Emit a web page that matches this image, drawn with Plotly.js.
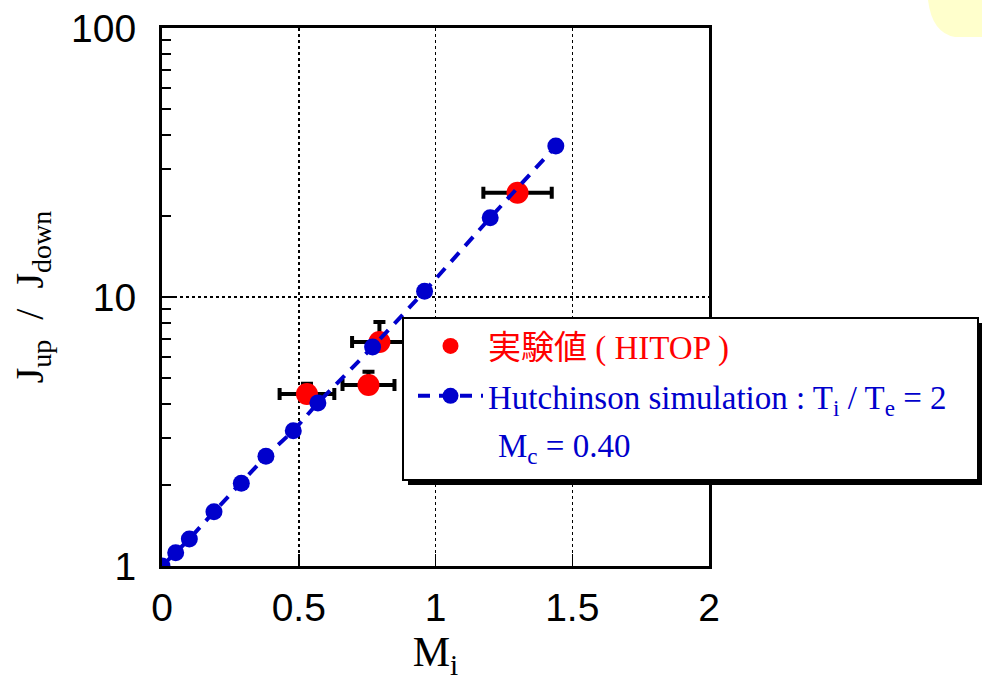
<!DOCTYPE html>
<html>
<head>
<meta charset="utf-8">
<script src="https://cdn.plot.ly/plotly-3.0.1.min.js"></script>
<style>
  html, body { margin: 0; padding: 0; background: #ffffff; }
  #chart { width: 982px; height: 697px; }
</style>
</head>
<body>
<div id="chart"></div>
<script>
// Experimental values (HITOP)
const expM = [0.53, 0.755, 0.795, 1.30];
const expJ = [4.36, 4.71, 6.8, 24.4];
const expMErr = [0.1, 0.095, 0.1, 0.125];
const expJErrUp = [0.4, 0.56, 1.27, 0];
const expJErrDown = [0, 0, 0, 0];

// Hutchinson simulation : Ti/Te = 2, Mc = 0.40
const simM = [0, 0.05, 0.1, 0.19, 0.29, 0.38, 0.48, 0.57, 0.77, 0.96, 1.2, 1.44];
const simJ = [1, 1.12, 1.26, 1.59, 2.03, 2.56, 3.18, 4.04, 6.52, 10.5, 19.7, 36.4];

const xTickVals = [0, 0.5, 1, 1.5, 2];
const xTickText = ['0', '0.5', '1', '1.5', '2'];

const expName = '実験値 ( HITOP )';
const simName = 'Hutchinson simulation : T<sub>i</sub> / T<sub>e</sub> = 2';
const mcText = 'M<sub>c</sub> = 0.40';

const RED = '#ff0000';
const BLUE = '#0000cc';

// helpers for pixel -> paper conversion (plot area 162..709 x 28..566)
const L = 162, T = 28, W = 547, H = 538;
const px = v => (v - L) / W;
const py = v => (T + H - v) / H;

const traces = [
  {
    x: expM, y: expJ, type: 'scatter', mode: 'markers',
    name: '<span style="color:' + RED + '">' + expName + '</span>',
    legendgroup: 'a',
    marker: { color: RED, size: 22, symbol: 'circle' },
    error_x: { type: 'data', array: expMErr, color: '#000000', thickness: 4, width: 6 },
    error_y: { type: 'data', array: expJErrUp, arrayminus: expJErrDown, symmetric: false, color: '#000000', thickness: 4, width: 6 },
    cliponaxis: false
  },
  {
    x: simM, y: simJ, type: 'scatter', mode: 'lines+markers',
    name: '<span style="color:' + BLUE + '">' + simName + '</span>',
    legendgroup: 'b',
    line: { color: BLUE, width: 4, dash: '12px,9px' },
    marker: { color: BLUE, size: 17, symbol: 'circle' }
  }
];

const layout = {
  width: 982, height: 697,
  margin: { l: L, r: 982 - L - W, t: T, b: 697 - T - H, pad: 0 },
  paper_bgcolor: '#ffffff', plot_bgcolor: '#ffffff',
  font: { family: 'Liberation Sans, Arial, sans-serif', color: '#000000' },
  showlegend: true,
  legend: {
    x: px(413), y: py(318), xanchor: 'left', yanchor: 'top',
    bgcolor: 'rgba(0,0,0,0)', borderwidth: 0,
    font: { family: 'Liberation Serif, Noto Sans CJK JP, serif', size: 33, color: BLUE },
    itemwidth: 65, traceorder: 'grouped', tracegroupgap: 4,
    itemclick: false
  },
  xaxis: {
    range: [0, 2], tickvals: xTickVals, ticktext: xTickText,
    ticks: 'inside', ticklen: 12, tickwidth: 1.5, tickcolor: '#000000',
    showline: true, linewidth: 3, linecolor: '#000000', mirror: true,
    showgrid: true, gridcolor: '#000000', gridwidth: 1.5, griddash: 'dot',
    zeroline: false,
    tickfont: { size: 39, family: 'Liberation Sans, Arial, sans-serif' },
    ticklabelstandoff: 5,
    title: { text: 'M<sub>i</sub>', font: { family: 'Liberation Serif, serif', size: 42 }, standoff: 8 },
    automargin: false
  },
  yaxis: {
    type: 'log', range: [0, 2], dtick: 1,
    ticks: 'inside', ticklen: 12, tickwidth: 1.5, tickcolor: '#000000',
    minor: { ticks: 'inside', ticklen: 9, tickwidth: 2, tickcolor: '#000000', showgrid: false, dtick: 'D1' },
    showline: true, linewidth: 3, linecolor: '#000000', mirror: true,
    showgrid: true, gridcolor: '#000000', gridwidth: 1.5, griddash: 'dot',
    zeroline: false,
    tickfont: { size: 39, family: 'Liberation Sans, Arial, sans-serif' },
    ticklabelstandoff: 15,
    title: { text: 'J<sub>up</sub>  /  J<sub>down</sub>', font: { family: 'Liberation Serif, serif', size: 40 }, standoff: 16 },
    automargin: false
  },
  shapes: [
    // pale yellow blob in the top-right corner
    {
      type: 'path', xref: 'paper', yref: 'paper', layer: 'below',
      path: 'M ' + px(928) + ',' + py(-5) + ' L ' + px(928) + ',' + py(0) +
            ' Q ' + px(932) + ',' + py(33) + ' ' + px(955) + ',' + py(37) +
            ' L ' + px(990) + ',' + py(37) + ' L ' + px(990) + ',' + py(-5) + ' Z',
      fillcolor: '#ffffcc', line: { width: 0 }
    },
    // legend shadow
    {
      type: 'rect', xref: 'paper', yref: 'paper', layer: 'above',
      x0: px(408), x1: px(982), y0: py(485), y1: py(323),
      fillcolor: '#000000', line: { width: 0 }
    },
    // legend box
    {
      type: 'rect', xref: 'paper', yref: 'paper', layer: 'above',
      x0: px(403), x1: px(978), y0: py(480), y1: py(318),
      fillcolor: '#ffffff', line: { color: '#000000', width: 2 }
    }
  ],
  annotations: [
    {
      xref: 'paper', yref: 'paper', x: px(496), y: py(448),
      xanchor: 'left', yanchor: 'middle', showarrow: false,
      text: mcText,
      font: { family: 'Liberation Serif, serif', size: 33, color: BLUE }
    }
  ]
};

Plotly.newPlot('chart', traces, layout, { staticPlot: true, displayModeBar: false });
</script>
</body>
</html>
